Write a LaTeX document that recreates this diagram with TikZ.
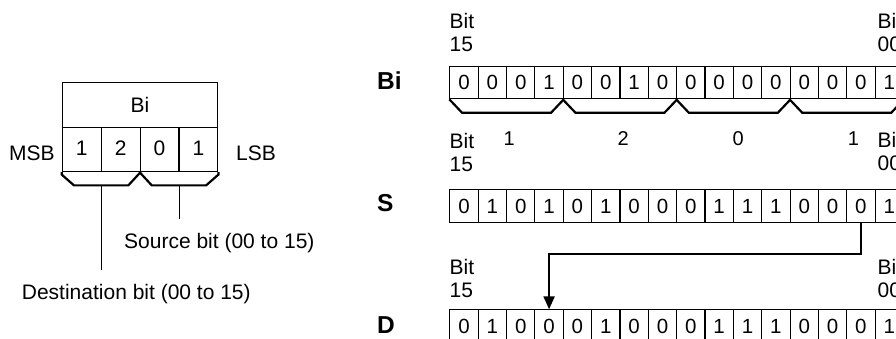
\documentclass[tikz,border=0pt]{standalone}
\usepackage{fontspec}
\setmainfont{Liberation Sans}
\usetikzlibrary{arrows.meta,calc}
\begin{document}
\begin{tikzpicture}[x=1pt,y=-1pt,
  cell/.style={draw, line width=1.1pt, inner sep=0pt, minimum width=28.35pt, minimum height=32.5pt, anchor=north west, font=\fontsize{20.5}{22}\selectfont},
  lcell/.style={draw, line width=1.1pt, inner sep=0pt, minimum width=38.9pt, minimum height=44.3pt, anchor=north west, font=\fontsize{21}{23}\selectfont},
  hdrbox/.style={draw, line width=1.1pt, inner sep=0pt, minimum width=155.6pt, minimum height=45pt, anchor=north west, font=\fontsize{21}{23}\selectfont},
  brace/.style={line width=2.2pt, line join=miter},
  lbl/.style={inner sep=0pt, font=\fontsize{21}{23.4}\selectfont},
  bitlbl/.style={lbl, align=left, anchor=west},
  grp/.style={inner sep=0pt, anchor=base, font=\fontsize{20}{22}\selectfont},
  reg/.style={inner sep=0pt, anchor=base west, font=\fontsize{24.5}{28}\bfseries\selectfont},
  lead/.style={line width=1.1pt},
  arr/.style={line width=2.2pt, -{Triangle[length=13pt,width=11pt]}}]
\useasboundingbox (0,0) rectangle (896,339);
\clip (0,0) rectangle (896,339);

% ---------- left diagram ----------
\node[hdrbox] (hdr) at (61.7,81.7) {Bi};
\foreach \v [count=\i from 0] in {1,2,0,1}
  \node[lcell] (lc-\i) at (61.7+\i*38.9,126.7) {\raisebox{2pt}{\v}};
\draw[brace] (lc-0.south west) -- ++(0,2.5) -- ++(12.3,10.8) -- ($(lc-1.south east)+(-12.3,13.3)$) -- (lc-1.south east);
\draw[brace] (lc-2.south west) -- ++(12.3,13.3) -- ($(lc-3.south east)+(-12.3,13.3)$) -- ++(12.3,-10.8) -- (lc-3.south east);
\node[lbl, anchor=base west] (msb) at (9,160.7) {MSB};
\node[lbl, anchor=base west] (lsb) at (236,160.7) {LSB};
\node[lbl, anchor=base west] (srclbl) at (124,248.3) {Source bit (00 to 15)};
\node[lbl, anchor=base west] (dstlbl) at (21.7,299) {Destination bit (00 to 15)};
\coordinate (dtop) at ($(lc-0.south east)+(0,13.3)$);
\coordinate (dend) at (100.6,270);
\coordinate (stop) at ($(lc-2.south east)+(0,13.3)$);
\coordinate (send) at (178.4,219);
\draw[lead] (dtop) -- (dtop |- dend);
\draw[lead] (stop) -- (stop |- send);

% ---------- right registers ----------
\foreach \b [count=\i from 0] in {0,0,0,1,0,0,1,0,0,0,0,0,0,0,0,1}
  \node[cell] (bi-\i) at (449.3+\i*28.35,65.7) {\b};
\foreach \b [count=\i from 0] in {0,1,0,1,0,1,0,0,0,1,1,1,0,0,0,1}
  \node[cell] (s-\i) at (449.3+\i*28.35,189.3) {\b};
\foreach \b [count=\i from 0] in {0,1,0,0,0,1,0,0,0,1,1,1,0,0,0,1}
  \node[cell] (d-\i) at (449.3+\i*28.35,309.3) {\b};

\foreach \g in {0,...,3} {
  \pgfmathtruncatemacro\ga{4*\g}
  \pgfmathtruncatemacro\gz{4*\g+3}
  \draw[brace] (bi-\ga.south west) -- ++(12.7,13.4) -- ($(bi-\gz.south east)+(-12.7,13.4)$) -- (bi-\gz.south east);
}

\node[reg] (lbi) at (377,90) {Bi};
\node[reg] (ls) at (377,211.7) {S};
\node[reg] (ld) at (377,333.3) {D};

\node[bitlbl] (b15a) at (449.5,32.65) {Bit\\15};
\node[bitlbl] (b15b) at (449.5,152.7) {Bit\\15};
\node[bitlbl] (b15c) at (449.5,278.4) {Bit\\15};
\node[bitlbl] (b00a) at (877.5,32.7) {Bit\\00};
\node[bitlbl] (b00b) at (877.5,151.7) {Bit\\00};
\node[bitlbl] (b00c) at (877.5,278.4) {Bit\\00};

\node[grp] (g1) at (509.3,146) {1};
\node[grp] (g2) at (623.3,146) {2};
\node[grp] (g3) at (738.3,146) {0};
\node[grp] (g4) at (853.3,146) {1};

\coordinate (bend) at (0,254);
\draw[arr] (s-14.south) -- (s-14.south |- bend) -| (d-3.north);
\end{tikzpicture}
\end{document}
